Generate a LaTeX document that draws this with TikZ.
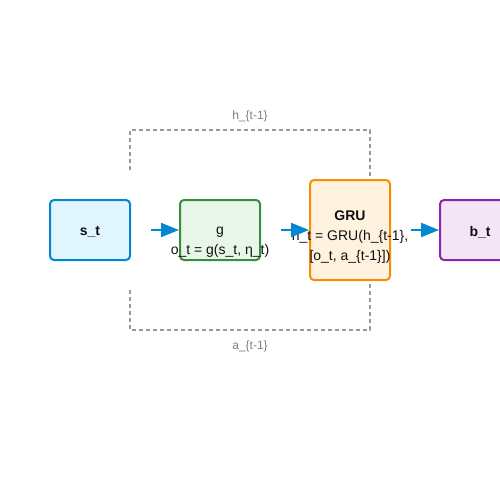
\documentclass[tikz,border=0pt]{standalone}
\usepackage{fontspec}
\setmainfont{Liberation Sans}
\usetikzlibrary{arrows.meta}
\definecolor{sfill}{HTML}{E1F5FE}\definecolor{sdraw}{HTML}{0288D1}
\definecolor{gfill}{HTML}{E8F5E9}\definecolor{gdraw}{HTML}{388E3C}
\definecolor{rfill}{HTML}{FFF3E0}\definecolor{rdraw}{HTML}{FB8C00}
\definecolor{bfill}{HTML}{F3E5F5}\definecolor{bdraw}{HTML}{8E24AA}
\definecolor{dgray}{HTML}{999999}\definecolor{lgray}{HTML}{808080}
\definecolor{txt}{HTML}{111111}
\begin{document}
\begin{tikzpicture}[x=1pt,y=-1pt,
  box/.style={draw, line width=2pt, rounded corners=4pt, minimum width=80pt, minimum height=60pt, inner sep=0pt},
  main/.style={font=\fontsize{14}{20}\selectfont, text=txt, align=center, inner sep=0pt},
  arr/.style={draw=sdraw, line width=2pt, -{Triangle[length=18pt,width=14pt]}, shorten <=20pt},
  dashline/.style={draw=dgray, line width=1.5pt, dash pattern=on 4pt off 3pt},
  lab/.style={font=\fontsize{12}{14}\selectfont, text=lgray, inner sep=0pt}]
\useasboundingbox (0,0) rectangle (500,500);
\node[box, draw=sdraw, fill=sfill] (s) at (90,230) {};
\node[box, draw=gdraw, fill=gfill] (g) at (220,230) {};
\node[box, draw=rdraw, fill=rfill, minimum height=100pt] (r) at (350,230) {};
\node[box, draw=bdraw, fill=bfill] (b) at (480,230) {};
\node[main, font=\fontsize{14}{20}\selectfont\bfseries] (stxt) at (90,232) {s\_t};
\node[main, font=\fontsize{14}{20}\selectfont\bfseries] (btxt) at (480,232) {b\_t};
\node[main] (gtxt) at (220,242.5) {g\\o\_t = g(s\_t, η\_t)};
\node[main] (rtxt) at (350,237.5) {\textbf{GRU}\\h\_t = GRU(h\_\{t-1\},\\{}[o\_t, a\_\{t-1\}])};
\draw[arr] (s.east) -- (g.west);
\draw[arr] (g.east) -- (r.west);
\draw[arr] (r.east) -- (b.west);
\coordinate (h0) at (130,170);
\coordinate (h1) at (130,130);
\coordinate (h2) at (370,130);
\coordinate (h3) at (370,180);
\coordinate (a0) at (130,290);
\coordinate (a1) at (130,330);
\coordinate (a2) at (370,330);
\coordinate (a3) at (370,280);
\draw[dashline] (h0) -- (h1) -- (h2) -- (h3);
\draw[dashline] (a0) -- (a1) -- (a2) -- (a3);
\node[lab] (hl) at (250,116) {h\_\{t-1\}};
\node[lab] (al) at (250,346) {a\_\{t-1\}};
\end{tikzpicture}
\end{document}
